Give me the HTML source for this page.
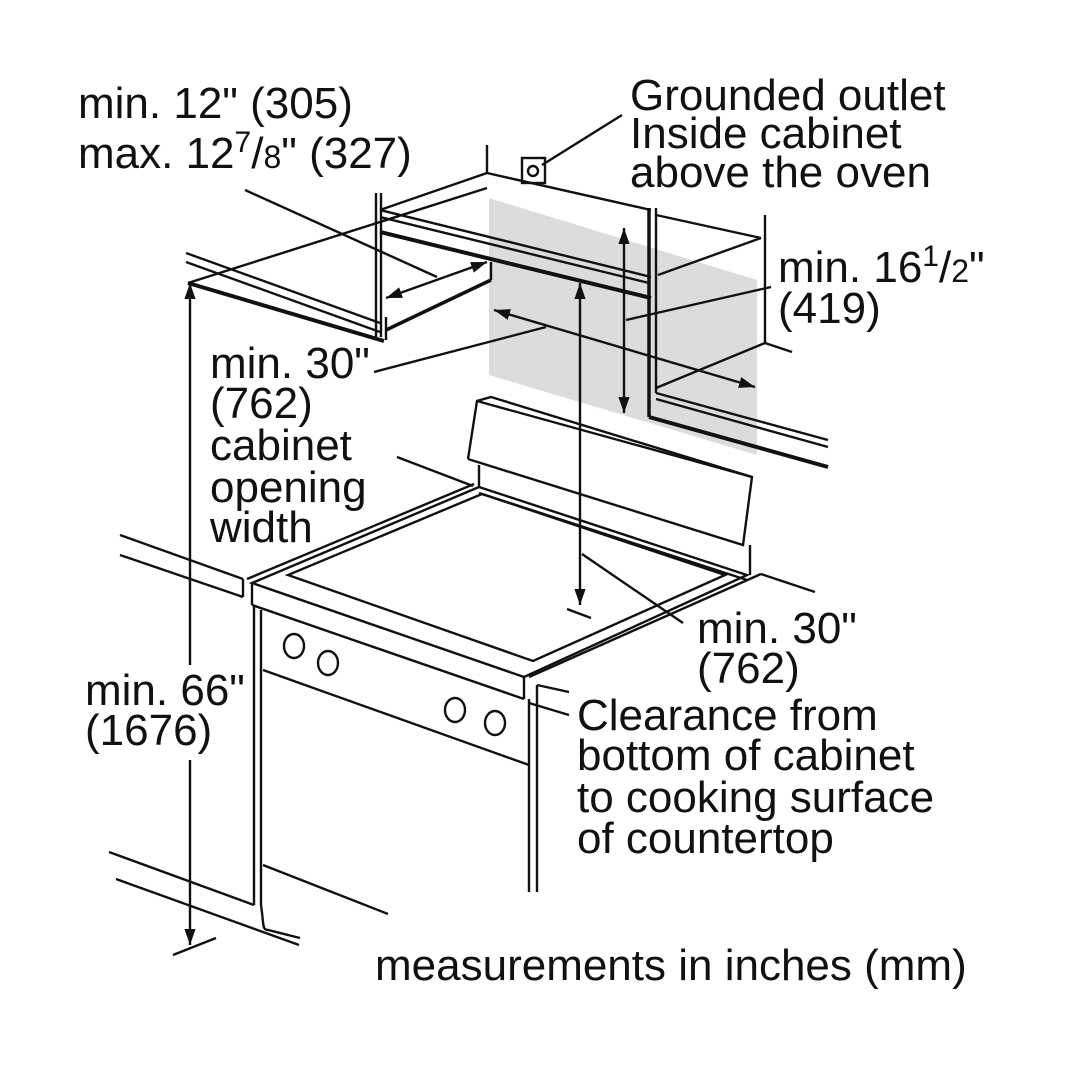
<!DOCTYPE html>
<html><head><meta charset="utf-8"><style>
html,body{margin:0;padding:0;background:#fff;}
svg{display:block;}
text{font-family:"Liberation Sans",Arial,sans-serif;font-size:44px;fill:#111;}
</style></head><body>
<svg width="1080" height="1080" viewBox="0 0 1080 1080" xmlns="http://www.w3.org/2000/svg">
<defs>
<marker id="a" viewBox="0 0 10 10" refX="10" refY="5" markerWidth="16" markerHeight="16" markerUnits="userSpaceOnUse" orient="auto-start-reverse"><path d="M0,1.5 L10,5 L0,8.5 z" fill="#111"/></marker>
</defs>
<rect width="1080" height="1080" fill="#fff"/>
<polygon points="489,198 757,280 757,455 489,375" fill="#dcdcdc"/>
<g stroke="#111" stroke-width="2.4" fill="none">
<line x1="487" y1="145" x2="487" y2="173"/>
<line x1="487" y1="173" x2="651" y2="210"/>
<line x1="487" y1="173" x2="380" y2="210"/>
<line x1="487" y1="188" x2="188" y2="283"/>
<line x1="376" y1="193" x2="376" y2="337"/>
<line x1="381" y1="193" x2="381" y2="337"/>
<line x1="380" y1="210" x2="651" y2="277"/>
<line x1="380" y1="217" x2="649" y2="283"/>
<line x1="380" y1="232" x2="651" y2="298" stroke-width="4"/>
<line x1="491" y1="262" x2="491" y2="280"/>
<line x1="491" y1="280" x2="386" y2="330" stroke-width="3.5"/>
<line x1="386" y1="317" x2="386" y2="340"/>
<line x1="186" y1="253" x2="380" y2="323"/>
<line x1="186" y1="262" x2="380" y2="332"/>
<line x1="188" y1="283" x2="384" y2="341" stroke-width="4"/>
<line x1="649" y1="208" x2="649" y2="417" stroke-width="3.5"/>
<line x1="656" y1="208" x2="656" y2="393"/>
<line x1="649" y1="417" x2="828" y2="467" stroke-width="4"/>
<line x1="656" y1="393" x2="828" y2="440"/>
<line x1="656" y1="399" x2="828" y2="447"/>
<line x1="656" y1="215" x2="761" y2="238"/>
<line x1="761" y1="238" x2="658" y2="275"/>
<line x1="765" y1="215" x2="765" y2="343"/>
<line x1="765" y1="343" x2="792" y2="352"/>
<line x1="765" y1="343" x2="656" y2="388"/>
<rect x="522" y="158" width="23" height="25"/>
<circle cx="533" cy="171" r="5"/>
<line x1="542" y1="165" x2="622" y2="115"/>
<line x1="386" y1="298" x2="487" y2="262" marker-start="url(#a)" marker-end="url(#a)"/>
<line x1="245" y1="190" x2="437" y2="277"/>
<line x1="624" y1="228" x2="624" y2="413" marker-start="url(#a)" marker-end="url(#a)"/>
<line x1="771" y1="287" x2="626" y2="320"/>
<line x1="494" y1="310" x2="755" y2="387" marker-start="url(#a)" marker-end="url(#a)"/>
<line x1="374" y1="372" x2="546" y2="327"/>
<line x1="580" y1="283" x2="580" y2="605" marker-start="url(#a)" marker-end="url(#a)"/>
<line x1="567" y1="609" x2="591" y2="618"/>
<line x1="582" y1="554" x2="683" y2="623"/>
<line x1="190" y1="283" x2="190" y2="665" marker-start="url(#a)"/>
<line x1="190" y1="760" x2="190" y2="945" marker-end="url(#a)"/>
<line x1="173" y1="955" x2="216" y2="938"/>
<line x1="397" y1="457" x2="473" y2="486"/>
<polyline points="468,459 477,401 491,397 752,477 743,545 468,459"/>
<line x1="477" y1="401" x2="752" y2="477"/>
<line x1="479" y1="465" x2="479" y2="488"/>
<line x1="750" y1="545" x2="750" y2="575"/>
<polygon points="479,487 252,583 524,677 747,575"/>
<line x1="474" y1="484" x2="247" y2="579"/>
<line x1="479" y1="493" x2="747" y2="580"/>
<polygon points="482,494 288,575 533,661 725,575"/>
<line x1="252" y1="583" x2="252" y2="605"/>
<line x1="252" y1="605" x2="524" y2="699"/>
<line x1="524" y1="677" x2="524" y2="699"/>
<line x1="120" y1="535" x2="243" y2="579"/>
<line x1="120" y1="555" x2="243" y2="597"/>
<line x1="243" y1="579" x2="243" y2="597"/>
<line x1="263" y1="670" x2="529" y2="765"/>
<line x1="254" y1="605" x2="254" y2="905"/>
<line x1="261" y1="610" x2="261" y2="905"/>
<line x1="529" y1="699" x2="529" y2="892"/>
<line x1="537" y1="685" x2="537" y2="892"/>
<line x1="529" y1="677" x2="761" y2="574"/>
<line x1="761" y1="574" x2="815" y2="592"/>
<line x1="537" y1="685" x2="569" y2="692"/>
<line x1="529" y1="703" x2="569" y2="715"/>
<ellipse cx="294" cy="646" rx="10" ry="12"/>
<ellipse cx="328" cy="663" rx="10" ry="12"/>
<ellipse cx="455" cy="710" rx="10" ry="12"/>
<ellipse cx="495" cy="723" rx="10" ry="12"/>
<line x1="109" y1="852" x2="254" y2="905"/>
<line x1="116" y1="879" x2="299" y2="945"/>
<line x1="263" y1="865" x2="388" y2="914"/>
<path d="M261,905 C264,925 262,930 268,930 L300,938"/>
</g>
<text x="78" y="118">min. 12" (305)</text>
<text x="78" y="168">max. 12<tspan font-size="30" dy="-16">7</tspan><tspan dy="16">/</tspan><tspan font-size="32">8</tspan>" (327)</text>
<text x="630" y="110">Grounded outlet</text>
<text x="630" y="148">Inside cabinet</text>
<text x="630" y="187">above the oven</text>
<text x="778" y="282">min. 16<tspan font-size="30" dy="-16">1</tspan><tspan dy="16">/</tspan><tspan font-size="32">2</tspan>"</text>
<text x="778" y="323">(419)</text>
<text x="210" y="378">min. 30"</text>
<text x="210" y="418">(762)</text>
<text x="210" y="460">cabinet</text>
<text x="210" y="502">opening</text>
<text x="210" y="542">width</text>
<text x="85" y="705">min. 66"</text>
<text x="85" y="745">(1676)</text>
<text x="697" y="643">min. 30"</text>
<text x="697" y="683">(762)</text>
<text x="577" y="730">Clearance from</text>
<text x="577" y="770">bottom of cabinet</text>
<text x="577" y="812">to cooking surface</text>
<text x="577" y="853">of countertop</text>
<text x="375" y="980">measurements in inches (mm)</text>
</svg>
</body></html>
